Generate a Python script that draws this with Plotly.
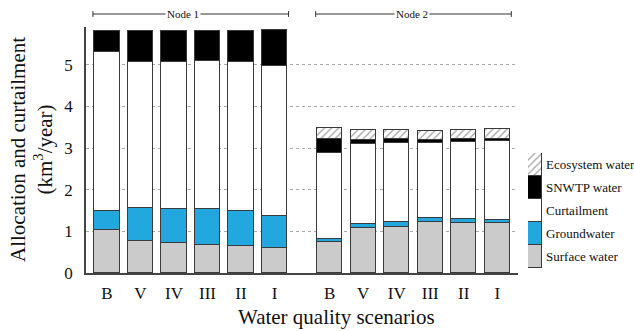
import plotly.graph_objects as go

# ---------------- data ----------------
scenarios = ["B", "V", "IV", "III", "II", "I"]
node_names = ["Node 1", "Node 2"]
series_names = ["Surface water", "Groundwater", "Curtailment", "SNWTP water", "Ecosystem water"]

n1_surface = [1.03, 0.78, 0.72, 0.68, 0.65, 0.61]
n1_ground = [0.47, 0.79, 0.81, 0.86, 0.83, 0.77]
n1_curtail = [3.82, 3.49, 3.55, 3.55, 3.59, 3.59]
n1_snwtp = [0.50, 0.76, 0.74, 0.73, 0.75, 0.87]
n1_eco = [None, None, None, None, None, None]

n2_surface = [0.75, 1.07, 1.11, 1.22, 1.21, 1.19]
n2_ground = [0.06, 0.11, 0.11, 0.09, 0.09, 0.09]
n2_curtail = [2.07, 1.91, 1.90, 1.82, 1.84, 1.90]
n2_snwtp = [0.33, 0.11, 0.09, 0.07, 0.07, 0.03]
n2_eco = [0.27, 0.23, 0.22, 0.22, 0.22, 0.24]

y_ticks = [0, 1, 2, 3, 4, 5]

# ---------------- style ----------------
FONT = "Times New Roman"
colors = ["#cbcbcb", "#22a7df", "#ffffff", "#000000", "#ffffff"]
outline = "#3a3a3a"
node2_offset = 6.65
bar_w = 0.75

x1 = [i for i in range(len(scenarios))]
x2 = [node2_offset + i for i in range(len(scenarios))]

node_series = [
    (x1, [n1_surface, n1_ground, n1_curtail, n1_snwtp, n1_eco]),
    (x2, [n2_surface, n2_ground, n2_curtail, n2_snwtp, n2_eco]),
]

fig = go.Figure()


def marker_for(k):
    m = dict(color=colors[k], line=dict(color=outline, width=1))
    if k == 4:
        m["pattern"] = dict(shape="/", fgcolor="#444444", bgcolor="#ffffff",
                            size=5, solidity=0.25)
    return m


for xs, vals in node_series:
    for k, name in enumerate(series_names):
        fig.add_trace(go.Bar(x=xs, y=vals[k], width=bar_w, name=name,
                             marker=marker_for(k), showlegend=False,
                             hoverinfo="name+y"))

# legend built as a small stacked bar on its own axes
for k, name in enumerate(series_names):
    fig.add_trace(go.Bar(x=[0], y=[1], width=1, name=name, marker=marker_for(k),
                         xaxis="x2", yaxis="y2", showlegend=False, hoverinfo="name"))
    fig.add_annotation(x=0.842, xref="paper", y=k + 0.5, yref="y2", text=name,
                       showarrow=False, xanchor="left", yanchor="middle",
                       font=dict(family=FONT, size=13, color="#111"))

W, H = 634, 331
ml, mr, mt, mb = 86, 4, 27, 58
pw = W - ml - mr
ph = H - mt - mb

fig.update_layout(
    width=W, height=H,
    margin=dict(l=ml, r=mr, t=mt, b=mb),
    barmode="stack", bargap=0,
    plot_bgcolor="white", paper_bgcolor="white",
    font=dict(family=FONT, color="#111"),
    xaxis=dict(domain=[0, (518 - ml) / pw], range=[-0.627, 12.27],
               tickvals=x1 + x2, ticktext=scenarios + scenarios,
               tickfont=dict(size=17, family=FONT, color="#111"),
               showgrid=False, zeroline=False, showline=True,
               linecolor="#444", linewidth=1.5, ticks="", ticklabelstandoff=4),
    yaxis=dict(range=[0, 5.91], tickvals=y_ticks,
               tickfont=dict(size=17, family=FONT, color="#111"),
               showgrid=True, gridcolor="#aaaaaa", griddash="dot", gridwidth=1,
               zeroline=False, showline=True, linecolor="#444", linewidth=1.5,
               ticks="", ticklabelstandoff=8),
    xaxis2=dict(domain=[(528 - ml) / pw, (542 - ml) / pw], range=[-0.5, 0.5],
                visible=False, anchor="y2"),
    yaxis2=dict(domain=[(H - mb - 268) / ph, (H - mb - 153) / ph], range=[0, 5],
                visible=False, anchor="x2"),
)

# axis titles
fig.add_annotation(x=(31 - ml) / pw, xref="paper", y=0.5, yref="paper",
                   text="Allocation and curtailment<br>(km<sup>3</sup>/year)",
                   textangle=-90, showarrow=False, xanchor="center", yanchor="middle",
                   font=dict(family=FONT, size=21, color="#111"))
fig.add_annotation(x=(336 - ml) / pw, xref="paper", y=-(317 - (H - mb)) / ph, yref="paper",
                   text="Water quality scenarios", showarrow=False,
                   xanchor="center", yanchor="middle",
                   font=dict(family=FONT, size=21, color="#111"))

# node brackets
yb = (H - mb - 14) / ph
for xs, label, tc in [(x1, node_names[0], -0.75), (x2, node_names[1], -0.1)]:
    x0, x1b = xs[0] - 0.42, xs[-1] + 0.42
    fig.add_shape(type="line", xref="x", yref="paper", x0=x0, x1=x1b, y0=yb, y1=yb,
                  line=dict(color="#333", width=1))
    for xe in (x0, x1b):
        fig.add_shape(type="line", xref="x", yref="paper", x0=xe, x1=xe,
                      y0=yb - 0.012, y1=yb + 0.012, line=dict(color="#333", width=1))
    fig.add_annotation(x=(xs[0] + xs[-1]) / 2 + tc * 0.3, xref="x", y=yb, yref="paper",
                       text=label, showarrow=False, bgcolor="white",
                       xanchor="center", yanchor="middle", borderpad=1,
                       font=dict(family=FONT, size=11, color="#111"))

fig.write_html("out.html")
